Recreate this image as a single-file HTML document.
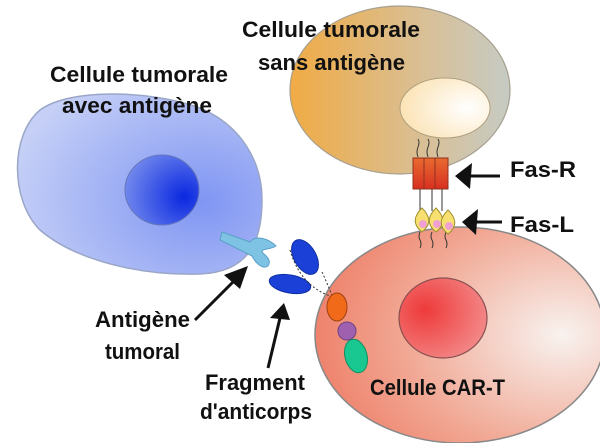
<!DOCTYPE html>
<html><head><meta charset="utf-8"><style>
body{margin:0;background:#fff}
svg{display:block}
text{font-family:"Liberation Sans",sans-serif;font-size:22px;font-weight:bold;fill:#111}
</style></head><body>
<svg width="600" height="443" viewBox="0 0 600 443" xmlns="http://www.w3.org/2000/svg">
<defs>
<radialGradient id="bl" cx="0.75" cy="0.6" r="0.8"><stop offset="0" stop-color="#7f95f3"/><stop offset="1" stop-color="#c6d0f6"/></radialGradient>
<radialGradient id="bn" cx="0.8" cy="0.6" r="0.8"><stop offset="0" stop-color="#0a28e0"/><stop offset="1" stop-color="#6f86ec"/></radialGradient>
<linearGradient id="or" x1="0" y1="0" x2="1" y2="0"><stop offset="0" stop-color="#f0ab45"/><stop offset="0.6" stop-color="#d9bf95"/><stop offset="1" stop-color="#c6cbc4"/></linearGradient>
<radialGradient id="on" cx="0.75" cy="0.5" r="0.8"><stop offset="0" stop-color="#fff"/><stop offset="1" stop-color="#fbe1b0"/></radialGradient>
<radialGradient id="rd" cx="0.85" cy="0.5" r="0.9"><stop offset="0" stop-color="#f8f2ef"/><stop offset="0.6" stop-color="#f1a894"/><stop offset="1" stop-color="#ee7c66"/></radialGradient>
<radialGradient id="rn" cx="0.3" cy="0.4" r="0.8"><stop offset="0" stop-color="#ee3a3a"/><stop offset="1" stop-color="#f49090"/></radialGradient>
<linearGradient id="fr" x1="0" y1="0" x2="0" y2="1"><stop offset="0" stop-color="#e86a30"/><stop offset="1" stop-color="#d83020"/></linearGradient>
</defs>
<path d="M40,110 C70,88 150,90 200,108 C240,125 262,160 262,200 C262,240 250,272 200,274 C140,276 75,260 40,230 C10,200 10,135 40,110Z" fill="url(#bl)" stroke="#9aa6c8" stroke-width="1.5"/>
<ellipse cx="162" cy="190" rx="37" ry="35" fill="url(#bn)" stroke="#6677bb" stroke-width="1"/>
<ellipse cx="400" cy="90" rx="110" ry="84" fill="url(#or)" stroke="#a8a090" stroke-width="1.2"/>
<ellipse cx="445" cy="108" rx="45" ry="30" fill="url(#on)" stroke="#b0a080" stroke-width="1"/>
<ellipse cx="460" cy="335" rx="145" ry="108" fill="url(#rd)" stroke="#888" stroke-width="1.5"/>
<ellipse cx="443" cy="318" rx="44" ry="40" fill="url(#rn)" stroke="#8a5050" stroke-width="1.2"/>
<path d="M222,232 L250,242 C255,235 268,238 276,246 C270,250 262,248 262,252 C266,256 272,260 268,266 C262,270 255,262 252,256 L220,240Z" fill="#7ec3e3" stroke="#5aa0c8" stroke-width="1"/>
<ellipse cx="305" cy="257" rx="11" ry="19" transform="rotate(-30 305 257)" fill="#1a40d8" stroke="#1030a0"/>
<ellipse cx="290" cy="284" rx="21" ry="9" transform="rotate(10 290 284)" fill="#1a40d8" stroke="#1030a0"/>
<path d="M290,250 Q300,285 330,296" fill="none" stroke="#333" stroke-dasharray="2,2"/>
<path d="M322,272 Q328,285 333,298" fill="none" stroke="#333" stroke-dasharray="2,2"/>
<ellipse cx="337" cy="307" rx="10" ry="14" fill="#f06a1a" stroke="#a04010"/>
<circle cx="347" cy="331" r="9" fill="#a060b0" stroke="#704080"/>
<ellipse cx="356" cy="356" rx="11" ry="17" transform="rotate(-15 356 356)" fill="#18c890" stroke="#109060"/>
<g stroke="#333" stroke-width="1" fill="none"><path d="M418,157 q-2,-5 0,-10 q2,-5 0,-8"/><path d="M428,157 q-2,-5 0,-10 q2,-5 0,-8"/><path d="M438,157 q-2,-5 0,-10 q2,-5 0,-8"/>
<path d="M420,189 v22"/><path d="M432,189 v22"/><path d="M442,189 v22"/>
<path d="M420,232 q-2,5 0,8 q2,4 0,8"/><path d="M432,232 q-2,5 0,8 q2,4 0,8"/><path d="M446,232 q-2,5 0,8 q2,4 0,8"/></g>
<rect x="413" y="158" width="13" height="31" fill="url(#fr)" stroke="#903020"/>
<rect x="424" y="158" width="13" height="31" fill="url(#fr)" stroke="#903020"/>
<rect x="435" y="158" width="13" height="31" fill="url(#fr)" stroke="#903020"/>
<g fill="#f8e070" stroke="#a09030" stroke-width="1">
<path d="M422,208 C430,216 432,224 422,232 C412,224 414,216 422,208Z"/>
<path d="M436,208 C444,216 446,224 436,232 C426,224 428,216 436,208Z"/>
<path d="M448,210 C456,218 458,226 448,234 C438,226 440,218 448,210Z"/></g>
<g fill="#f0a0d0"><circle cx="423" cy="224" r="4"/><circle cx="437" cy="224" r="4"/><circle cx="449" cy="226" r="4"/></g>
<g stroke="#111" stroke-width="3" fill="#111">
<line x1="195" y1="320" x2="235" y2="280"/><polygon points="248,266 224,275 240,289" stroke="none"/>
<line x1="268" y1="368" x2="280" y2="318"/><polygon points="284,303 270,318 290,320" stroke="none"/>
<line x1="500" y1="176" x2="468" y2="176"/><polygon points="455,176 472,163 470,189" stroke="none"/>
<line x1="502" y1="222" x2="476" y2="222"/><polygon points="462,222 478,209 476,235" stroke="none"/>
</g>
<text x="242" y="37" textLength="178" lengthAdjust="spacingAndGlyphs">Cellule tumorale</text>
<text x="258" y="70" textLength="147" lengthAdjust="spacingAndGlyphs">sans antigène</text>
<text x="50" y="82" textLength="178" lengthAdjust="spacingAndGlyphs">Cellule tumorale</text>
<text x="62" y="113" textLength="150" lengthAdjust="spacingAndGlyphs">avec antigène</text>
<text x="510" y="177" textLength="66" lengthAdjust="spacingAndGlyphs">Fas-R</text>
<text x="510" y="232" textLength="64" lengthAdjust="spacingAndGlyphs">Fas-L</text>
<text x="95" y="327" textLength="95" lengthAdjust="spacingAndGlyphs">Antigène</text>
<text x="105" y="359" textLength="75" lengthAdjust="spacingAndGlyphs">tumoral</text>
<text x="205" y="390" textLength="100" lengthAdjust="spacingAndGlyphs">Fragment</text>
<text x="200" y="419" textLength="112" lengthAdjust="spacingAndGlyphs">d'anticorps</text>
<text x="370" y="395" textLength="135" lengthAdjust="spacingAndGlyphs">Cellule CAR-T</text>
</svg>
</body></html>
